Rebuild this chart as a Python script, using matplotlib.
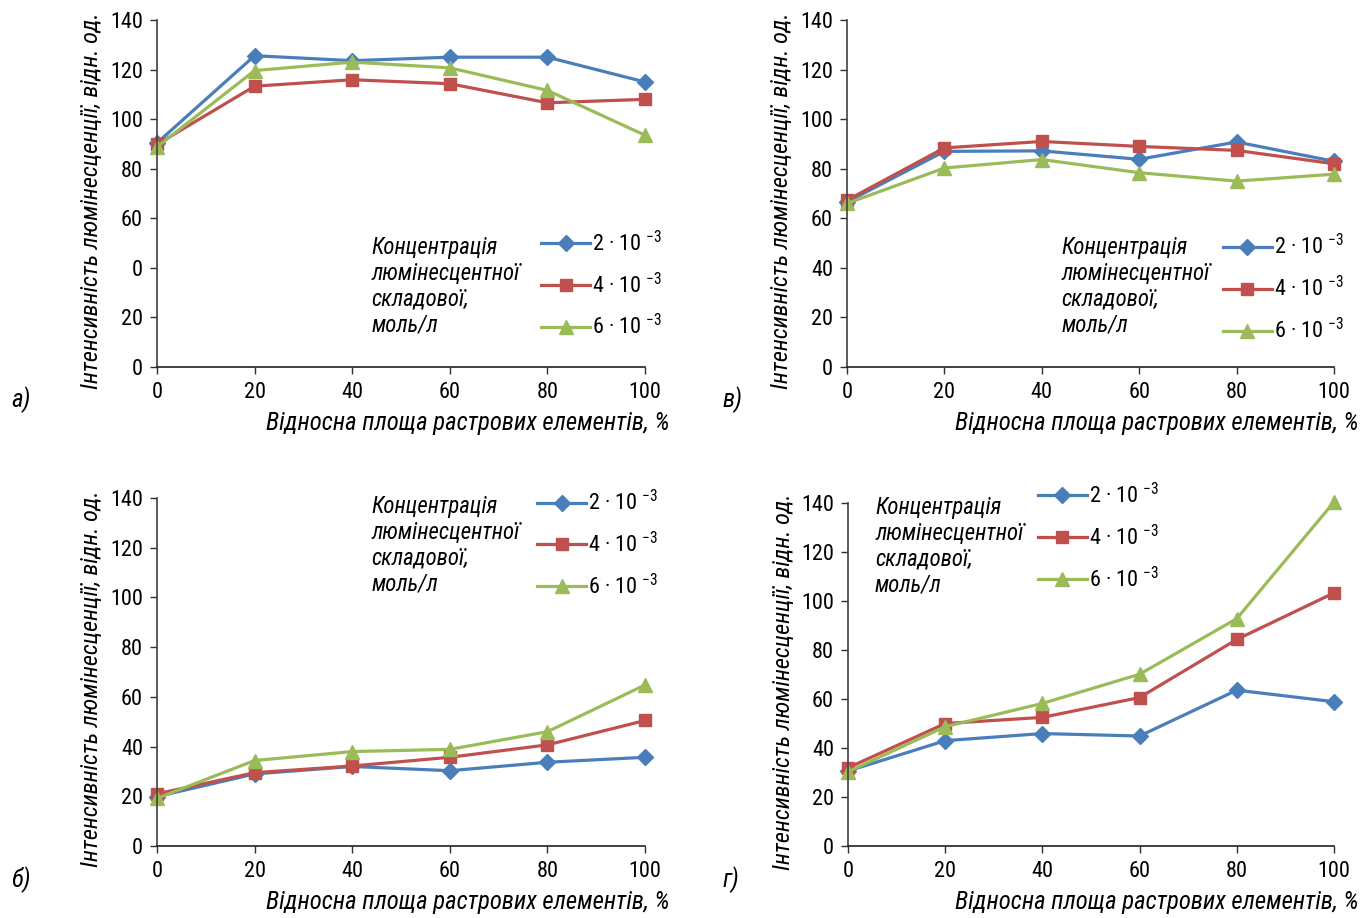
import matplotlib
matplotlib.use("Agg")
import matplotlib.pyplot as plt

plt.rcParams['font.family'] = ['Roboto Condensed', 'Liberation Sans Narrow', 'Open Sans', 'DejaVu Sans']
plt.rcParams['mathtext.default'] = 'regular'

x_area = [0, 20, 40, 60, 80, 100]
conc_labels = ["2 · 10 $^{-3}$", "4 · 10 $^{-3}$", "6 · 10 $^{-3}$"]
y_ticks = [0, 20, 40, 60, 80, 100, 120, 140]
y_ticklabels_a = ["0", "20", "0", "60", "80", "100", "120", "140"]

# panel а)
a_c2 = [90.4, 125.6, 123.6, 125.0, 125.0, 115.0]
a_c4 = [89.8, 113.3, 115.9, 114.3, 106.6, 108.0]
a_c6 = [88.8, 119.6, 123.0, 120.7, 111.6, 93.5]
# panel в)
v_c2 = [66.6, 87.0, 87.2, 83.8, 90.8, 83.0]
v_c4 = [67.3, 88.4, 91.0, 89.0, 87.4, 82.0]
v_c6 = [66.0, 80.3, 83.7, 78.4, 75.0, 77.8]
# panel б)
b_c2 = [19.9, 29.0, 32.0, 30.3, 33.7, 35.7]
b_c4 = [21.0, 29.5, 32.2, 35.7, 40.7, 50.5]
b_c6 = [19.2, 34.4, 38.0, 38.9, 46.0, 64.8]
# panel г)
g_c2 = [30.6, 43.0, 45.9, 44.9, 63.6, 58.9]
g_c4 = [31.9, 50.0, 52.5, 60.6, 84.3, 103.3]
g_c6 = [30.3, 48.7, 58.2, 70.1, 92.8, 140.4]

colors = ['#4A7EBB', '#C0504D', '#9BBB59']
markers = [('D', 8), ('s', 9), ('^', 10)]

ylabel = "Інтенсивність люмінесценції, відн. од."
xlabel = "Відносна площа растрових елементів, %"
legend_title = "Концентрація\nлюмінесцентної\nскладової,\nмоль/л"

fig = plt.figure(figsize=(13.71, 9.18), dpi=100)

panels = [
    # rect, series, letter, letter pos, legend anchor, legend text pos
    ([0.1145, 0.6002, 0.356, 0.378], (a_c2, a_c4, a_c6), "а)", (0.008, 0.565), (0.787, 0.236), (0.44, 0.377)),
    ([0.6178, 0.6002, 0.3552, 0.378], (v_c2, v_c4, v_c6), "в)", (0.527, 0.565), (0.772, 0.225), (0.441, 0.377)),
    ([0.1145, 0.0784, 0.356, 0.3791], (b_c2, b_c4, b_c6), "б)", (0.008, 0.042), (0.779, 0.866), (0.44, 1.008)),
    ([0.6185, 0.0784, 0.3545, 0.3737], (g_c2, g_c4, g_c6), "г)", (0.527, 0.042), (0.391, 0.90), (0.0556, 1.02)),
]

for i, (rect, series, letter, letter_pos, leg_anchor, txt_pos) in enumerate(panels):
    ax = fig.add_axes(rect)
    for ys, c, (m, ms), lab in zip(series, colors, markers, conc_labels):
        ax.plot(x_area, ys, color=c, lw=2.3, marker=m, markersize=ms,
                markeredgecolor=c, label=lab, clip_on=False)
    ax.set_xlim(0, 100)
    ax.set_ylim(0, 140)
    ax.set_xticks(x_area)
    ax.set_yticks(y_ticks)
    if i == 0:
        ax.set_yticklabels(y_ticklabels_a)
    for side in ('top', 'right'):
        ax.spines[side].set_visible(False)
    ax.spines['left'].set_color('#404040')
    ax.spines['bottom'].set_color('#202020')
    ax.spines['left'].set_linewidth(1.2)
    ax.spines['bottom'].set_linewidth(1.2)
    ax.tick_params(axis='both', direction='out', length=5, width=1.0,
                   colors='#303030', labelsize=16, labelcolor='black')
    ax.tick_params(axis='y', pad=5)
    ax.tick_params(axis='x', pad=6)

    ax.set_ylabel(ylabel, fontsize=17.5, style='italic')
    ax.yaxis.set_label_coords(-0.11, 0.48)
    ax.text(1.051, -0.162, xlabel, transform=ax.transAxes, ha='right', va='center',
            fontsize=17.8, style='italic')

    ax.text(txt_pos[0], txt_pos[1], legend_title, transform=ax.transAxes,
            ha='left', va='top', fontsize=16.4, style='italic', linespacing=1.15)
    ax.legend(loc='center left', bbox_to_anchor=leg_anchor, frameon=False,
              fontsize=16, borderpad=0, borderaxespad=0, handlelength=2.2,
              handletextpad=0.08, labelspacing=0.75)

    fig.text(letter_pos[0], letter_pos[1], letter, fontsize=18, style='italic',
             ha='left', va='center')

fig.savefig("out.png", dpi=100)
